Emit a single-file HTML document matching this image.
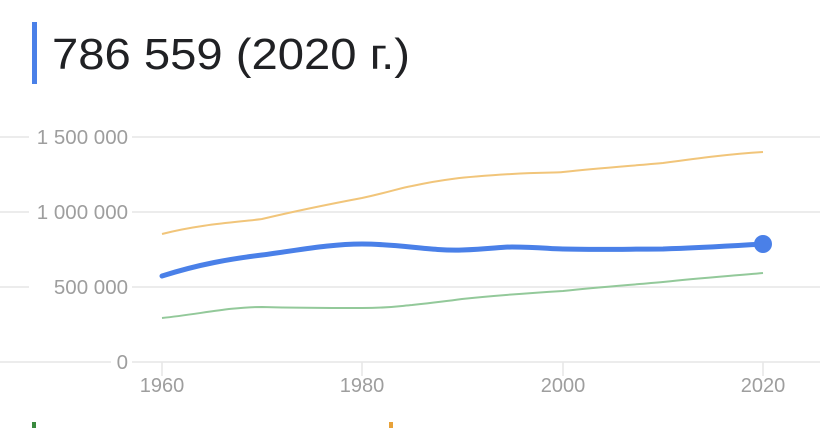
<!DOCTYPE html>
<html><head><meta charset="utf-8"><style>
html,body{margin:0;padding:0;background:#fff;width:820px;height:428px;overflow:hidden}
</style></head><body>
<svg width="820" height="428" viewBox="0 0 820 428" xmlns="http://www.w3.org/2000/svg" font-family="Liberation Sans, sans-serif">
<rect x="32" y="22" width="5" height="62" fill="#4a80e8"/>
<text x="52" y="69" font-size="44" fill="#202124" textLength="358" lengthAdjust="spacingAndGlyphs">786 559 (2020 г.)</text>
<g stroke="#e6e6e6" stroke-width="1.5">
<line x1="0" y1="137" x2="820" y2="137"/>
<line x1="0" y1="212" x2="820" y2="212"/>
<line x1="0" y1="287" x2="820" y2="287"/>
<line x1="0" y1="362" x2="820" y2="362"/>
<line x1="162" y1="362" x2="162" y2="376"/>
<line x1="362" y1="362" x2="362" y2="376"/>
<line x1="563" y1="362" x2="563" y2="376"/>
<line x1="763" y1="362" x2="763" y2="376"/>
</g>
<g font-size="20.5" fill="#9e9e9e" text-anchor="end">
<rect x="29" y="125" width="103" height="24" fill="#fff"/>
<text x="128" y="144">1 500 000</text>
<rect x="29" y="200" width="103" height="24" fill="#fff"/>
<text x="128" y="219">1 000 000</text>
<rect x="29" y="275" width="103" height="24" fill="#fff"/>
<text x="128" y="294">500 000</text>
<rect x="111" y="350" width="21" height="24" fill="#fff"/>
<text x="128" y="369">0</text>
</g>
<g font-size="20" fill="#9e9e9e" text-anchor="middle">
<text x="162" y="392">1960</text>
<text x="362" y="392">1980</text>
<text x="563" y="392">2000</text>
<text x="763" y="392">2020</text>
</g>
<path d="M162,234 C200,224 240,222 262,219 C300,210 330,204 362,198 C390,192 400,188 412,186 C440,180 460,177 512,174 C540,172 555,173 563,172 C600,168 630,166 663,163 C700,158 730,154 763,152" fill="none" stroke="#f1c57a" stroke-width="2"/>
<path d="M162,318 C200,314 230,307 262,307 C300,308 340,308 362,308 C390,308 400,306 412,305 C440,302 455,300 462,299 C500,295 530,293 563,291 C600,287 630,285 663,282 C700,278 730,276 763,273" fill="none" stroke="#93c99a" stroke-width="2"/>
<path d="M162,276 C200,264 230,259 262,255 C300,250 330,244 362,244 C400,244 430,251 462,250 C490,249 500,247 512,247 C540,247 550,249 563,249 C600,250 630,249 663,249 C700,248 730,246 763,244" fill="none" stroke="#4a80e8" stroke-width="5" stroke-linecap="round"/>
<circle cx="763" cy="244" r="9" fill="#4a80e8"/>
<rect x="32" y="422" width="4" height="6" fill="#3a8a3e"/>
<rect x="389" y="422" width="4" height="6" fill="#e8a23a"/>
</svg>
</body></html>
